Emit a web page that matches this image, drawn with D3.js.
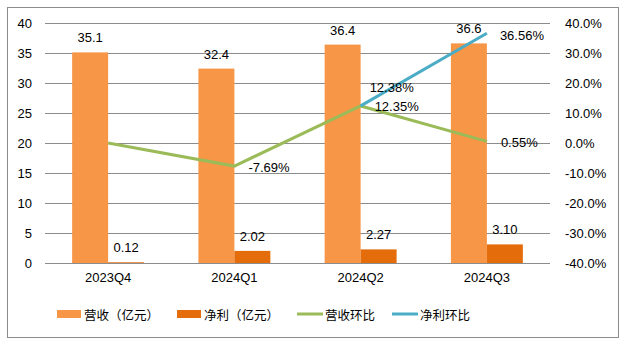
<!DOCTYPE html>
<html><head><meta charset="utf-8">
<script src="https://cdn.jsdelivr.net/npm/d3@7"></script>
<style>body{margin:0;background:#fff}svg{display:block}</style>
</head><body>
<svg id="c" width="624" height="346"></svg>
<script>
const categories = ["2023Q4","2024Q1","2024Q2","2024Q3"];
const revenue = [35.1, 32.4, 36.4, 36.6];
const revenueLabels = ["35.1","32.4","36.4","36.6"];
const profit = [0.12, 2.02, 2.27, 3.10];
const profitLabels = ["0.12","2.02","2.27","3.10"];
const revQoQ = [0, -7.69, 12.35, 0.55];
const profitQoQ = [null, null, 12.38, 36.56];
const leftTicks = [0,5,10,15,20,25,30,35,40];
const rightTicks = [-40,-30,-20,-10,0,10,20,30,40];
const seriesNames = ["营收（亿元）","净利（亿元）","营收环比","净利环比"];
const colors = ["#F79646","#E46C0A","#9BBB59","#4BACC6"];

const svg = d3.select("#c");
const font = "'Liberation Sans', Arial, sans-serif";
const cjk = "'Noto Sans CJK SC', sans-serif";
svg.append("rect").attr("x",7.5).attr("y",7.5).attr("width",611).attr("height",330)
  .attr("fill","#fff").attr("stroke","#8c8c8c").attr("stroke-width",1);

const L = 45, R = 550, T = 23, B = 263;
const x = d3.scaleBand().domain(categories).range([L,R]).paddingInner(0.43).paddingOuter(0.215);
const x0 = d3.scaleBand().domain(categories).range([L,R]);
const yL = d3.scaleLinear().domain([0,40]).range([B,T]);
const yR = d3.scaleLinear().domain([-40,40]).range([B,T]);
const bw = x.bandwidth()/2;
const cx = c => x0(c) + x0.bandwidth()/2;

// gridlines
svg.append("g").selectAll("line").data(leftTicks).join("line")
  .attr("x1",L).attr("x2",R).attr("y1",d=>Math.round(yL(d))+0.5).attr("y2",d=>Math.round(yL(d))+0.5)
  .attr("stroke","#8c8c8c").attr("stroke-width",1);

// left axis
const ga = svg.append("g").attr("transform",`translate(${L},0)`)
  .call(d3.axisLeft(yL).tickValues(leftTicks).tickSize(0).tickPadding(13));
ga.select(".domain").remove();
ga.selectAll("text").attr("font-family",font).attr("font-size",13).attr("fill","#000");

// right axis
const gr = svg.append("g").attr("transform",`translate(${R},0)`)
  .call(d3.axisRight(yR).tickValues(rightTicks).tickSize(0).tickPadding(15).tickFormat(d=>d.toFixed(1)+"%"));
gr.select(".domain").remove();
gr.selectAll("text").attr("font-family",font).attr("font-size",13).attr("fill","#000");

// x axis labels
const gx = svg.append("g").attr("transform",`translate(0,${B})`)
  .call(d3.axisBottom(x0).tickSize(0).tickPadding(10));
gx.select(".domain").remove();
gx.selectAll("text").attr("font-family",font).attr("font-size",13).attr("fill","#000");

// bars
svg.append("g").selectAll("rect").data(categories).join("rect")
  .attr("x",c=>cx(c)-bw).attr("width",bw)
  .attr("y",(c,i)=>yL(revenue[i])).attr("height",(c,i)=>yL(0)-yL(revenue[i]))
  .attr("fill",colors[0]);
svg.append("g").selectAll("rect").data(categories).join("rect")
  .attr("x",c=>cx(c)).attr("width",bw)
  .attr("y",(c,i)=>yL(profit[i])).attr("height",(c,i)=>yL(0)-yL(profit[i]))
  .attr("fill",colors[1]);

// bar labels
svg.append("g").selectAll("text").data(categories).join("text")
  .attr("x",c=>cx(c)-bw/2).attr("y",(c,i)=>yL(revenue[i])-10)
  .attr("text-anchor","middle").attr("font-family",font).attr("font-size",13)
  .text((c,i)=>revenueLabels[i]);
svg.append("g").selectAll("text").data(categories).join("text")
  .attr("x",c=>cx(c)+bw/2).attr("y",(c,i)=>yL(profit[i])-10)
  .attr("text-anchor","middle").attr("font-family",font).attr("font-size",13)
  .text((c,i)=>profitLabels[i]);

// lines
const line = d3.line().defined(d=>d.v!==null).x(d=>cx(d.c)).y(d=>yR(d.v));
svg.append("path").datum(categories.map((c,i)=>({c,v:revQoQ[i]})))
  .attr("d",line).attr("fill","none").attr("stroke",colors[2]).attr("stroke-width",3);
svg.append("path").datum(categories.map((c,i)=>({c,v:profitQoQ[i]})))
  .attr("d",line).attr("fill","none").attr("stroke",colors[3]).attr("stroke-width",3);

// line labels
const fmtPct = v => v.toFixed(2)+"%";
const lbl = (xx,yy,t,anchor) => svg.append("text").attr("x",xx).attr("y",yy)
  .attr("font-family",font).attr("font-size",13).attr("text-anchor",anchor||"start")
  .attr("dominant-baseline","central").text(t);
revQoQ.forEach((v,i)=>{
  if(i===0) return;
  lbl(cx(categories[i])+14, yR(v)+1, fmtPct(v));
});
profitQoQ.forEach((v,i)=>{
  if(v===null) return;
  if(i===2) lbl(cx(categories[i])+9, yR(v)-18, fmtPct(v));
  else lbl(cx(categories[i])+13, yR(v)+2, fmtPct(v));
});

// legend
const lg = svg.append("g");
const legendX = [57,177,297,392];
seriesNames.forEach((n,i)=>{
  if(i<2) lg.append("rect").attr("x",legendX[i]).attr("y",310).attr("width",24).attr("height",8).attr("fill",colors[i]);
  else lg.append("line").attr("x1",legendX[i]).attr("x2",legendX[i]+26).attr("y1",314).attr("y2",314)
    .attr("stroke",colors[i]).attr("stroke-width",3);
  lg.append("text").attr("x",legendX[i]+(i<2?27:28)).attr("y",314).attr("dominant-baseline","central")
    .attr("font-family",cjk).attr("font-size",12.5).text(n);
});
</script>
</body></html>
